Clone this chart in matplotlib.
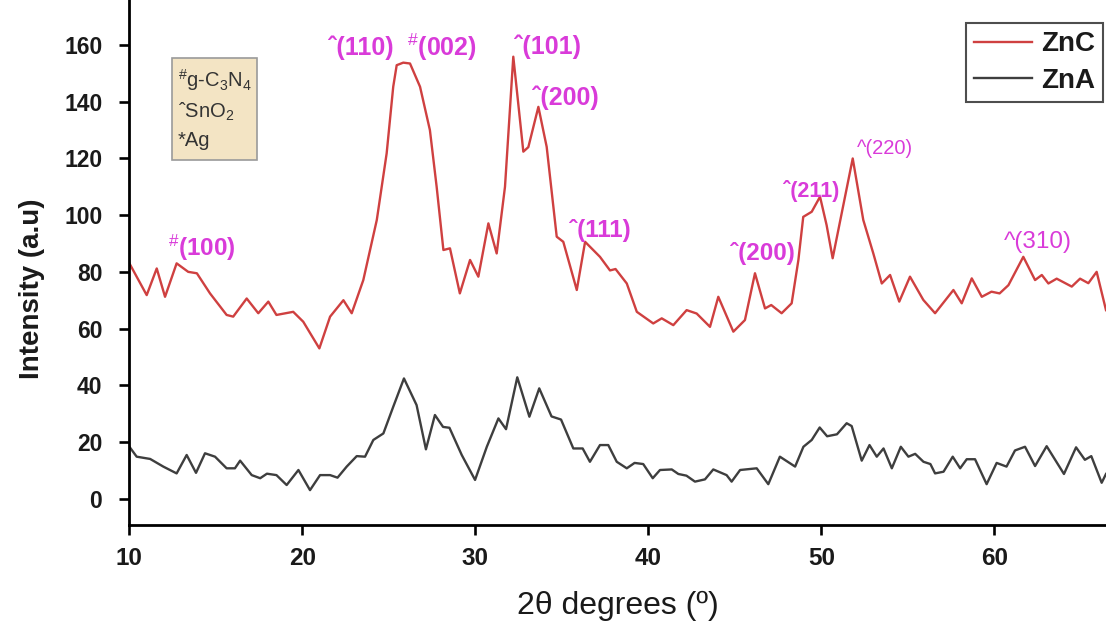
import matplotlib
matplotlib.use("Agg")
import matplotlib.pyplot as plt
from matplotlib.patches import Rectangle

plt.rcParams['font.family'] = ['Liberation Sans', 'DejaVu Sans']
plt.rcParams['mathtext.fontset'] = 'custom'
plt.rcParams['mathtext.rm'] = 'Liberation Sans'
plt.rcParams['mathtext.it'] = 'Liberation Sans:italic'
plt.rcParams['mathtext.bf'] = 'Liberation Sans:bold'

# ---------------- data ----------------
znc_x = [10.0, 11.0, 11.58, 12.06, 12.73, 13.4, 13.9, 14.66, 15.62, 16.0, 16.78, 17.45,
         18.03, 18.5, 19.47, 20.05, 20.98, 21.6, 22.37, 22.85, 23.52, 24.3, 24.87, 25.25,
         25.45, 25.83, 26.22, 26.8, 27.37, 27.76, 28.15, 28.53, 29.1, 29.69, 30.17, 30.75,
         31.23, 31.71, 32.19, 32.77, 33.06, 33.64, 34.12, 34.7, 35.08, 35.86, 36.34, 37.2,
         37.78, 38.1, 38.75, 39.33, 40.28, 40.77, 41.44, 42.21, 42.79, 43.56, 44.04, 44.91,
         45.58, 46.16, 46.74, 47.1, 47.7, 48.28, 48.67, 48.95, 49.44, 49.92, 50.3, 50.65,
         51.17, 51.81, 52.42, 53.0, 53.49, 53.97, 54.5, 55.12, 55.89, 56.57, 57.63, 58.11,
         58.69, 59.27, 59.83, 60.3, 60.81, 61.67, 62.35, 62.74, 63.12, 63.6, 64.47, 64.95,
         65.43, 65.91, 66.45]
znc_y = [83.0, 71.8, 81.2, 71.2, 83.0, 80.0, 79.5, 72.4, 64.8, 64.2, 70.6, 65.4,
         69.5, 64.8, 65.9, 62.4, 53.0, 64.2, 70.0, 65.4, 77.1, 98.3, 121.8, 145.3,
         152.9, 153.8, 153.5, 145.3, 130.0, 110.0, 87.7, 88.3, 72.4, 84.2, 78.3, 97.1,
         86.5, 110.0, 155.9, 122.4, 124.0, 138.2, 124.1, 92.4, 90.6, 73.6, 90.6, 85.3,
         80.5, 81.0, 75.9, 65.9, 61.8, 63.6, 61.2, 66.5, 65.3, 60.6, 71.2, 58.9,
         63.0, 79.5, 67.1, 68.3, 65.4, 68.9, 84.2, 99.4, 101.2, 106.5, 96.5, 84.8,
         100.6, 120.0, 98.3, 86.5, 75.9, 78.9, 69.5, 78.3, 70.1, 65.4, 73.6, 68.9,
         77.7, 71.2, 73.0, 72.4, 75.3, 85.3, 77.1, 78.9, 75.9, 77.6, 74.8, 77.6,
         76.0, 80.0, 66.5]

zna_x = [10.0, 10.42, 11.2, 11.96, 12.73, 13.31, 13.85, 14.37, 14.95, 15.62, 16.1, 16.4,
         17.07, 17.56, 17.95, 18.5, 19.09, 19.77, 20.44, 21.02, 21.6, 22.03, 22.56, 23.14,
         23.62, 24.1, 24.68, 25.25, 25.87, 26.6, 27.14, 27.66, 28.13, 28.5, 29.21, 29.98,
         30.66, 31.33, 31.77, 32.42, 33.12, 33.69, 34.4, 34.95, 35.66, 36.2, 36.62, 37.2,
         37.68, 38.17, 38.75, 39.2, 39.7, 40.25, 40.67, 41.35, 41.73, 42.2, 42.69, 43.27,
         43.75, 44.52, 44.81, 45.3, 46.26, 46.93, 47.6, 48.48, 48.96, 49.44, 49.9, 50.33,
         50.9, 51.46, 51.75, 52.33, 52.78, 53.2, 53.59, 54.07, 54.59, 55.03, 55.42, 55.9,
         56.3, 56.57, 57.06, 57.59, 58.02, 58.4, 58.88, 59.55, 60.13, 60.7, 61.19, 61.77,
         62.35, 63.02, 64.02, 64.72, 65.23, 65.6, 66.2, 66.45]
zna_y = [18.3, 14.8, 14.0, 11.3, 8.9, 15.4, 9.1, 16.0, 14.8, 10.7, 10.7, 13.4,
         8.3, 7.2, 8.8, 8.3, 4.8, 10.1, 3.0, 8.3, 8.3, 7.4, 11.3, 15.0,
         14.8, 20.7, 23.0, 32.4, 42.4, 33.0, 17.4, 29.5, 25.3, 25.0, 15.4, 6.6,
         18.3, 28.3, 24.5, 42.8, 28.9, 38.9, 29.0, 27.9, 17.7, 17.7, 13.0, 18.9,
         18.9, 13.0, 10.7, 12.6, 12.2, 7.2, 10.1, 10.3, 8.7, 8.1, 6.0, 6.8,
         10.3, 8.3, 6.0, 10.1, 10.7, 5.1, 14.8, 11.3, 18.3, 20.7, 25.1, 22.0,
         22.7, 26.6, 25.6, 13.4, 18.9, 14.8, 17.7, 10.7, 18.3, 14.8, 15.8, 13.0,
         12.2, 8.9, 9.5, 14.8, 10.7, 13.9, 13.9, 5.1, 12.6, 11.3, 17.0, 18.3,
         11.5, 18.5, 8.7, 18.1, 13.7, 15.0, 5.6, 8.7]

series_labels = ["ZnC", "ZnA"]
x_ticks = [10, 20, 30, 40, 50, 60]
y_ticks = [0, 20, 40, 60, 80, 100, 120, 140, 160]

# peak labels: (text, x, y, size, weight)
peak_labels = [
    (r"$^{\#}$(100)", 12.23, 88.4, 17.5, 'bold'),
    ("\u02c6(110)", 21.48, 158.9, 18, 'bold'),
    (r"$^{\#}$(002)", 26.04, 159.3, 18, 'bold'),
    ("\u02c6(101)", 32.23, 159.3, 18, 'bold'),
    ("\u02c6(200)", 33.27, 141.3, 18, 'bold'),
    ("\u02c6(111)", 35.41, 94.7, 17.5, 'bold'),
    ("\u02c6(200)", 44.72, 86.6, 17.5, 'bold'),
    ("\u02c6(211)", 47.78, 108.5, 15.5, 'bold'),
    ("^(220)", 52.06, 123.6, 14.5, 'normal'),
    ("^(310)", 60.55, 90.5, 17.5, 'normal'),
]
key_lines = [r"$^{\#}$g-C$_3$N$_4$", "\u02c6SnO$_2$", "*Ag"]

# ---------------- figure ----------------
W, H = 1106, 629
X0, YB = 129.4, 525.0
fig = plt.figure(figsize=(W / 100, H / 100), dpi=100)
ax = fig.add_axes([X0 / W, (H - YB) / H, (W - X0) / W, YB / H])

red = '#cf4040'
dark = '#3e3e3e'
ax.plot(znc_x, znc_y, color=red, lw=1.7, label=series_labels[0], solid_joinstyle='round')
ax.plot(zna_x, zna_y, color=dark, lw=1.7, label=series_labels[1], solid_joinstyle='round')

ax.set_xlim(10, 66.45)
ax.set_ylim(-9.3, 175.9)
ax.set_xticks(x_ticks)
ax.set_yticks(y_ticks)
for s in ['top', 'right']:
    ax.spines[s].set_visible(False)
for s in ['left', 'bottom']:
    ax.spines[s].set_linewidth(2.0)
ax.tick_params(direction='out', length=7.5, width=1.9)
ax.tick_params(axis='x', labelsize=17.5, pad=8)
ax.tick_params(axis='y', labelsize=16.5, pad=12)
for lab in ax.get_xticklabels() + ax.get_yticklabels():
    lab.set_fontweight('bold')
    lab.set_color('#1a1a1a')

ax.set_xlabel("2\u03b8 degrees (\u00ba)", fontsize=23, labelpad=15, color='#1a1a1a')
ax.set_ylabel("Intensity (a.u)", fontsize=20, fontweight='bold', color='#1a1a1a')
ax.yaxis.set_label_coords((45 - X0) / (W - X0), (YB - 289) / YB)

leg = ax.legend(loc='upper right', bbox_to_anchor=((1103 - X0) / (W - X0), (YB - 23) / YB),
                borderaxespad=0, prop={'weight': 'bold', 'size': 20}, frameon=True,
                fancybox=False, handlelength=2.1, handletextpad=0.3, labelspacing=0.38,
                borderpad=0.3)
leg.get_frame().set_edgecolor('#222222')
leg.get_frame().set_linewidth(1.5)
for t in leg.get_texts():
    t.set_color('#1a1a1a')

magenta = '#d93bd9'
for txt, px, py, sz, wt in peak_labels:
    ax.text(px, py, txt, color=magenta, fontsize=sz, fontweight=wt, ha='left', va='center')

# key box (axes coordinates)
def ax_x(p):
    return (p - X0) / (W - X0)

def ax_y(p):
    return (YB - p) / YB

ax.add_patch(Rectangle((ax_x(172), ax_y(160)), ax_x(257) - ax_x(172), ax_y(58) - ax_y(160),
                       transform=ax.transAxes, facecolor='#f3e4c4', edgecolor='#9a9a9a', lw=1.2))
for line, ypx in zip(key_lines, [80, 112, 140]):
    ax.text(ax_x(178), ax_y(ypx), line, transform=ax.transAxes, fontsize=14.5,
            color='#333333', ha='left', va='center')

fig.savefig("out.png", dpi=100)
